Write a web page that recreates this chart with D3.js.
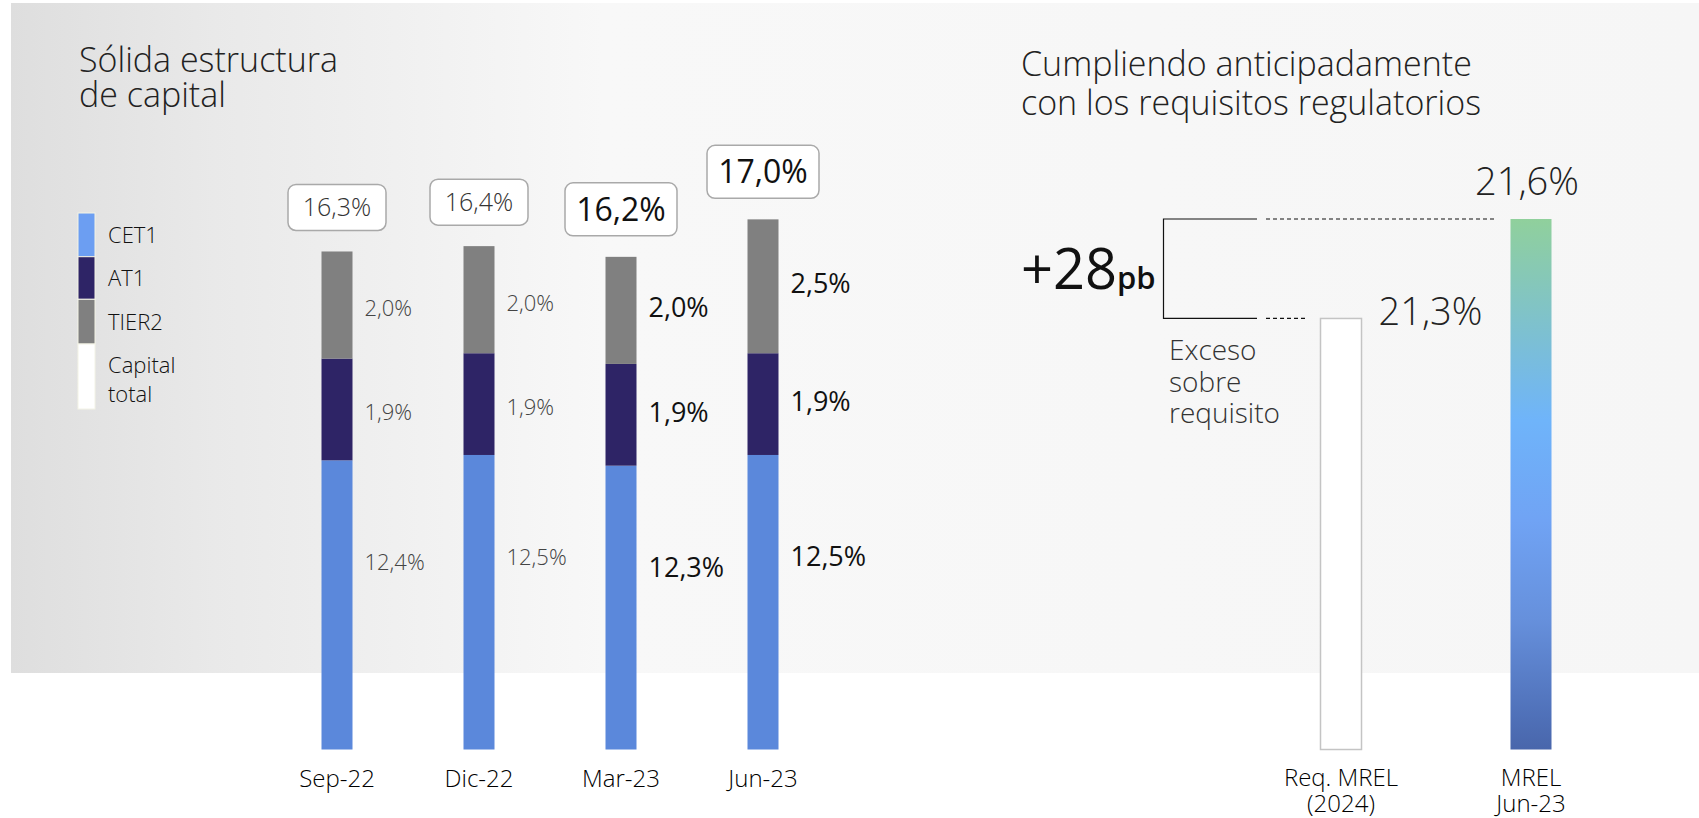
<!DOCTYPE html>
<html>
<head>
<meta charset="utf-8">
<script src="https://cdn.jsdelivr.net/npm/d3@7"></script>
<style>
  body { margin: 0; background: #fff; }
  svg text { font-family: "Open Sans", "Lato", sans-serif; }
</style>
</head>
<body>
<div id="chart"></div>
<script>
// data
const periods = ['Sep-22', 'Dic-22', 'Mar-23', 'Jun-23'];
const cet1 = [12.4, 12.5, 12.3, 12.5];
const at1 = [1.9, 1.9, 1.9, 1.9];
const tier2 = [2.0, 2.0, 2.0, 2.5];
const totalCapital = [16.3, 16.4, 16.2, 17.0];

const legendKeys = ['CET1', 'AT1', 'TIER2', 'Capital total'];

const mrelCategories = ['Req. MREL (2024)', 'MREL Jun-23'];
const mrelValues = [21.3, 21.6];
const mrelLabelLines = [['Req. MREL', '(2024)'], ['MREL', 'Jun-23']];
const excessPb = 28;

const fmt = (v) => v.toFixed(1).replace('.', ',') + '%';

const width = 1699;
const height = 818;

const svg = d3
    .select('#chart')
    .append('svg')
    .attr('width', width)
    .attr('height', height);

// background panel
const defs = svg.append('defs');
const bg = defs.append('linearGradient').attr('id', 'bgGrad')
    .attr('x1', '0%').attr('x2', '100%').attr('y1', '0%').attr('y2', '0%');
bg.append('stop').attr('offset', '0%').attr('stop-color', '#dedede');
bg.append('stop').attr('offset', '12%').attr('stop-color', '#e9e9e9');
bg.append('stop').attr('offset', '35%').attr('stop-color', '#f8f8f8');
bg.append('stop').attr('offset', '100%').attr('stop-color', '#f6f6f6');

svg.append('rect')
    .attr('x', 11).attr('y', 3)
    .attr('width', width - 11).attr('height', 670)
    .attr('fill', 'url(#bgGrad)');

// ---------- left chart: capital structure ----------
svg.append('text').attr('x', 79).attr('y', 72)
    .attr('font-size', 34).attr('font-weight', 300).attr('fill', '#222')
    .text('Sólida estructura');
svg.append('text').attr('x', 79).attr('y', 107)
    .attr('font-size', 34).attr('font-weight', 300).attr('fill', '#222')
    .text('de capital');

const rows = periods.map((p, i) => ({ period: p, CET1: cet1[i], AT1: at1[i], TIER2: tier2[i], total: totalCapital[i] }));
const stack = d3.stack().keys(['CET1', 'AT1', 'TIER2'])(rows);

const colors = { CET1: '#5b88db', AT1: '#2e2466', TIER2: '#808080' };
const legendColors = { 'CET1': '#6c9ef2', 'AT1': '#2e2466', 'TIER2': '#808080', 'Capital total': '#ffffff' };

const x = d3.scalePoint().domain(periods).range([337, 763]);
// axis of the slide starts near 7%, so the bars are cut at the bottom
const y = d3.scaleLinear().domain([7, 17]).range([749.5, 214]).clamp(true);
const barW = 31;

stack.forEach((layer) => {
    svg.selectAll('.seg' + layer.key)
        .data(layer)
        .enter()
        .append('rect')
        .attr('class', 'seg' + layer.key)
        .attr('x', (d) => x(d.data.period) - barW / 2)
        .attr('y', (d) => y(d[1]))
        .attr('width', barW)
        .attr('height', (d) => y(d[0]) - y(d[1]))
        .attr('fill', colors[layer.key]);
});

// segment labels
stack.forEach((layer) => {
    svg.selectAll('.lab' + layer.key)
        .data(layer)
        .enter()
        .append('text')
        .attr('class', 'lab' + layer.key)
        .attr('x', (d) => x(d.data.period) + barW / 2 + 12)
        .attr('y', (d, i) => {
            const big = i >= 2;
            const fs = big ? 27 : 22;
            const mid = (y(d[0]) + y(d[1])) / 2 + (big ? -3 : 3);
            const cy = layer.key === 'CET1' ? y(d[1] - 1.9) : mid;
            return cy + fs * 0.36;
        })
        .attr('font-size', (d, i) => (i >= 2 ? 27 : 22))
        .attr('font-weight', (d, i) => (i >= 2 ? 400 : 300))
        .attr('fill', (d, i) => (i >= 2 ? '#111' : '#444'))
        .text((d) => fmt(d.data[layer.key]));
});

// total boxes
const topLayer = stack[stack.length - 1];
const boxes = svg.selectAll('.totalBox')
    .data(topLayer)
    .enter()
    .append('g')
    .attr('class', 'totalBox');

boxes.append('rect')
    .attr('x', (d, i) => x(d.data.period) - (i >= 2 ? 56 : 49))
    .attr('y', (d, i) => y(d[1]) - 21 - (i >= 2 ? 53 : 46))
    .attr('width', (d, i) => (i >= 2 ? 112 : 98))
    .attr('height', (d, i) => (i >= 2 ? 53 : 46))
    .attr('rx', 8)
    .attr('fill', '#fff')
    .attr('stroke', '#a9a9a9')
    .attr('stroke-width', 1.5);

boxes.append('text')
    .attr('x', (d) => x(d.data.period))
    .attr('y', (d, i) => {
        const h = i >= 2 ? 53 : 46;
        const fs = i >= 2 ? 32 : 25;
        return y(d[1]) - 21 - h / 2 + fs * 0.36;
    })
    .attr('text-anchor', 'middle')
    .attr('font-size', (d, i) => (i >= 2 ? 32 : 25))
    .attr('font-weight', (d, i) => (i >= 2 ? 400 : 300))
    .attr('fill', (d, i) => (i >= 2 ? '#111' : '#333'))
    .text((d) => fmt(d.data.total));

// x axis labels
svg.selectAll('.periodLabel')
    .data(periods)
    .enter()
    .append('text')
    .attr('class', 'periodLabel')
    .attr('x', (d) => x(d))
    .attr('y', 787)
    .attr('text-anchor', 'middle')
    .attr('font-size', 24)
    .attr('font-weight', 300)
    .attr('fill', '#000')
    .text((d) => d);

// legend
const legendTops = [213, 256.7, 299.3, 344, 409];
svg.selectAll('.legendSwatch')
    .data(legendKeys)
    .enter()
    .append('rect')
    .attr('class', 'legendSwatch')
    .attr('x', 78)
    .attr('y', (d, i) => legendTops[i])
    .attr('width', 17)
    .attr('height', (d, i) => legendTops[i + 1] - legendTops[i])
    .attr('fill', (d) => legendColors[d])
    .attr('stroke', '#f3f3e6')
    .attr('stroke-width', 1);

svg.selectAll('.legendLabel')
    .data(legendKeys)
    .enter()
    .append('text')
    .attr('class', 'legendLabel')
    .attr('x', 108)
    .attr('y', (d, i) => (legendTops[i] + legendTops[i + 1]) / 2 + 8)
    .attr('font-size', 22)
    .attr('font-weight', 300)
    .attr('fill', '#111')
    .each(function (d, i) {
        const words = d.split(' ');
        const t = d3.select(this);
        if (words.length === 1) {
            t.text(d);
        } else {
            t.attr('y', legendTops[i] + 29);
            words.forEach((w, k) => {
                t.append('tspan').attr('x', 108).attr('dy', k === 0 ? 0 : 29).text(w);
            });
        }
    });

// ---------- right chart: MREL ----------
svg.append('text').attr('x', 1021).attr('y', 76)
    .attr('font-size', 34).attr('font-weight', 300).attr('fill', '#222')
    .text('Cumpliendo anticipadamente');
svg.append('text').attr('x', 1021).attr('y', 115)
    .attr('font-size', 34).attr('font-weight', 300).attr('fill', '#222')
    .text('con los requisitos regulatorios');

const x2 = d3.scalePoint().domain(mrelCategories).range([1341, 1531]);
const y2 = d3.scaleLinear().domain([20, 21.6]).range([749.5, 219]);
const barW2 = 41;

const mg = defs.append('linearGradient').attr('id', 'mrelGrad')
    .attr('x1', '0%').attr('x2', '0%').attr('y1', '0%').attr('y2', '100%');
[
    [0, '#90d09c'], [0.19, '#7fc2cb'], [0.38, '#6fb4fa'], [0.57, '#70a3f4'],
    [0.755, '#6690dc'], [0.94, '#4f70b8'], [1, '#4966ab'],
].forEach(([o, c]) => mg.append('stop').attr('offset', o).attr('stop-color', c));

svg.selectAll('.mrelBar')
    .data(mrelValues)
    .enter()
    .append('rect')
    .attr('class', 'mrelBar')
    .attr('x', (d, i) => x2(mrelCategories[i]) - barW2 / 2)
    .attr('y', (d) => y2(d))
    .attr('width', barW2)
    .attr('height', (d) => y2(20) - y2(d))
    .attr('fill', (d, i) => (i === 0 ? '#fff' : 'url(#mrelGrad)'))
    .attr('stroke', (d, i) => (i === 0 ? '#c4c4c4' : 'none'))
    .attr('stroke-width', 1.5);

// value labels
svg.append('text')
    .attr('x', x2(mrelCategories[0]) + barW2 / 2 + 17)
    .attr('y', y2(mrelValues[0]) + 7)
    .attr('font-size', 38).attr('font-weight', 300).attr('fill', '#222')
    .text(fmt(mrelValues[0]));
svg.append('text')
    .attr('x', x2(mrelCategories[1]) - 4)
    .attr('y', y2(mrelValues[1]) - 24)
    .attr('text-anchor', 'middle')
    .attr('font-size', 38).attr('font-weight', 300).attr('fill', '#222')
    .text(fmt(mrelValues[1]));

// bracket and dashed guides
const bx = 1163.5;
const yHi = y2(mrelValues[1]);
const yLo = y2(mrelValues[0]);
svg.append('path')
    .attr('d', `M1257,${yHi}H${bx}V${yLo}H1257`)
    .attr('fill', 'none').attr('stroke', '#111').attr('stroke-width', 1.2);
svg.append('line')
    .attr('x1', 1266).attr('x2', x2(mrelCategories[1]) - barW2 / 2 - 14)
    .attr('y1', yHi).attr('y2', yHi)
    .attr('stroke', '#111').attr('stroke-width', 1.2).attr('stroke-dasharray', '4,3');
svg.append('line')
    .attr('x1', 1266).attr('x2', x2(mrelCategories[0]) - barW2 / 2 - 13)
    .attr('y1', yLo).attr('y2', yLo)
    .attr('stroke', '#111').attr('stroke-width', 1.2).attr('stroke-dasharray', '4,3');

const pb = svg.append('text')
    .attr('x', 1021)
    .attr('y', (yHi + yLo) / 2 + 20)
    .attr('fill', '#111');
pb.append('tspan').attr('font-size', 56).text('+' + excessPb);
pb.append('tspan').attr('font-size', 31).attr('font-weight', 600).text('pb');

svg.append('text')
    .attr('x', 1169)
    .attr('y', 360)
    .attr('font-size', 28).attr('font-weight', 300).attr('fill', '#333')
    .selectAll('tspan')
    .data(['Exceso', 'sobre', 'requisito'])
    .enter()
    .append('tspan')
    .attr('x', 1169)
    .attr('dy', (d, i) => (i === 0 ? 0 : 31.5))
    .text((d) => d);

// category labels
mrelLabelLines.forEach((lines, i) => {
    svg.append('text')
        .attr('x', x2(mrelCategories[i]))
        .attr('y', 786)
        .attr('text-anchor', 'middle')
        .attr('font-size', 24)
        .attr('font-weight', 300)
        .attr('fill', '#000')
        .selectAll('tspan')
        .data(lines)
        .enter()
        .append('tspan')
        .attr('x', x2(mrelCategories[i]))
        .attr('dy', (d, k) => (k === 0 ? 0 : 26))
        .text((d) => d);
});
</script>
</body>
</html>
